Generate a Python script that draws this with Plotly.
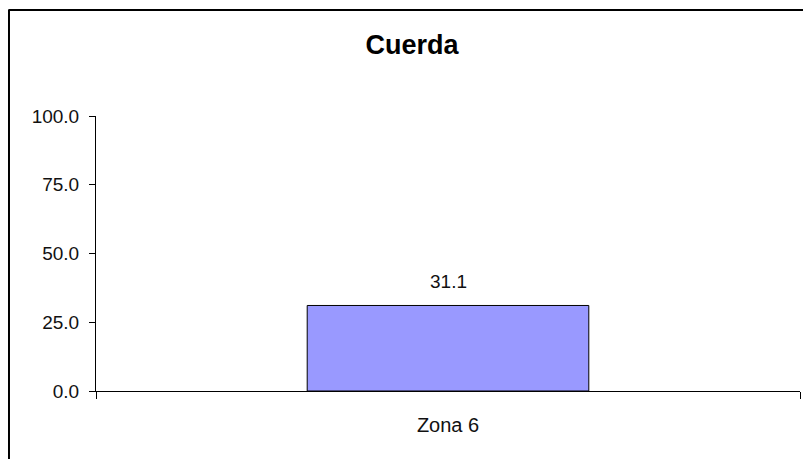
import plotly.graph_objects as go

categories = ["Zona 6"]
values = [31.1]
tick_vals = [0, 25, 50, 75, 100]
title_text = "Cuerda"

FONT = "Liberation Sans, Arial"

fig = go.Figure()
fig.add_trace(go.Bar(
    x=categories, y=values, width=0.4,
    marker=dict(color="#9999FF", line=dict(color="black", width=1)),
    hoverinfo="skip",
))

for c, v in zip(categories, values):
    fig.add_annotation(x=c, y=v, text=f"{v:.1f}", showarrow=False,
                       yanchor="middle", yshift=24,
                       font=dict(family=FONT, size=19, color="#111111"))

# outer chart border (left and top visible)
fig.add_shape(type="line", xref="paper", yref="paper",
              x0=-0.1236, x1=-0.1236, y0=-0.3, y1=1.3855,
              line=dict(color="black", width=2))
fig.add_shape(type="line", xref="paper", yref="paper",
              x0=-0.1245, x1=1.1, y0=1.3855, y1=1.3855,
              line=dict(color="black", width=2))

fig.update_layout(
    width=803, height=451,
    margin=dict(l=88, r=11, t=108, b=68),
    paper_bgcolor="white", plot_bgcolor="white",
    showlegend=False,
    title=dict(text=f"<b>{title_text}</b>", x=404 / 803, xanchor="center",
               y=1 - 37 / 451, yanchor="middle",
               font=dict(family=FONT, size=27, color="black")),
    font=dict(family=FONT, size=19, color="black"),
)
fig.update_xaxes(
    type="category", range=[-0.5, 0.5],
    showline=True, linecolor="black", linewidth=1,
    ticks="outside", tickson="boundaries", ticklen=7, tickcolor="black", tickwidth=1,
    showgrid=False, zeroline=False,
    tickfont=dict(size=20, color="#111111"), ticklabelstandoff=16,
)
fig.update_yaxes(
    range=[0, 100], tickvals=tick_vals, tickformat=".1f",
    showline=True, linecolor="black", linewidth=1,
    ticks="outside", ticklen=6, tickcolor="black", tickwidth=1,
    showgrid=False, zeroline=False,
    tickfont=dict(size=19, color="#111111"), ticklabelstandoff=6,
)

fig.write_html("out.html")
